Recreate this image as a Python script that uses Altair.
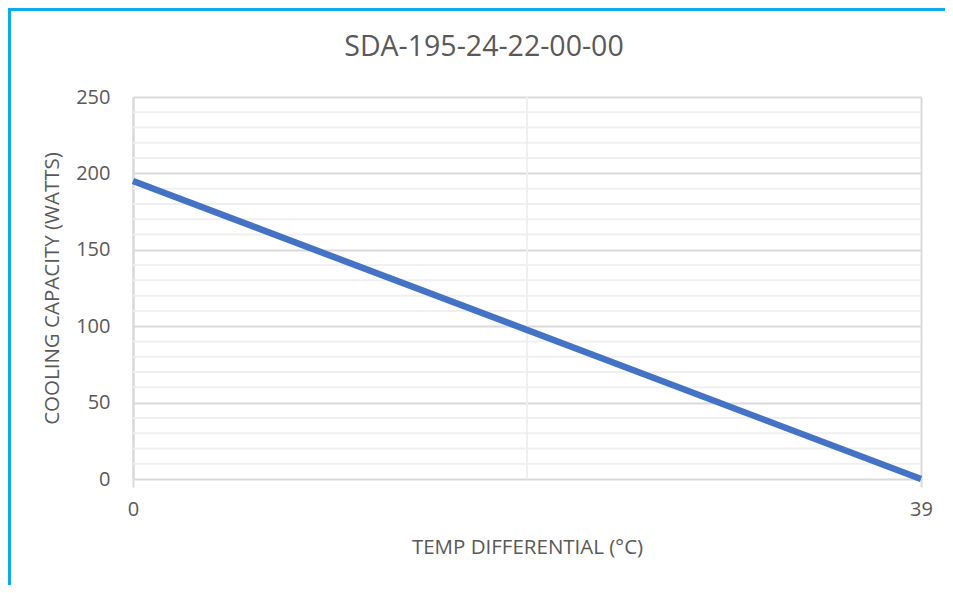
import altair as alt
import pandas as pd

# ---- data ----
chart_title = "SDA-195-24-22-00-00"
temp_diff = [0, 39]
cooling_watts = [195, 0]
y_major_ticks = [0, 50, 100, 150, 200, 250]
y_minor_ticks = [10, 20, 30, 40, 60, 70, 80, 90, 110, 120, 130, 140,
                 160, 170, 180, 190, 210, 220, 230, 240]
x_ticks = [0, 39]
x_minor_ticks = [19.5]

FONT = "Open Sans"
GRAY = "#595959"
W, H = 788, 382
PL, PT, PR, PB = 125, 89, 24, 106

line_df = pd.DataFrame({"t": temp_diff, "w": cooling_watts})
yminor_df = pd.DataFrame({"w": y_minor_ticks})
xminor_df = pd.DataFrame({"t": x_minor_ticks})

xs = alt.Scale(domain=[0, 39], nice=False, zero=False)
ys = alt.Scale(domain=[0, 250], nice=False)

x_axis = alt.Axis(values=x_ticks, grid=True, gridColor="#d9d9d9", gridWidth=2,
                  domain=False, ticks=True, tickColor="#d9d9d9", tickSize=8,
                  tickWidth=2, labelFont=FONT, labelFontSize=20,
                  labelColor=GRAY, labelPadding=12, labelFlush=False,
                  title="TEMP DIFFERENTIAL (°C)", titleFont=FONT,
                  titleFontSize=20.5, titleFontWeight="normal",
                  titleColor=GRAY, titlePadding=18)
y_axis = alt.Axis(values=y_major_ticks, grid=True, gridColor="#d9d9d9",
                  gridWidth=2, domain=True, domainColor="#d9d9d9",
                  domainWidth=2, ticks=False, tickSize=0, labelFont=FONT,
                  labelFontSize=20, labelColor=GRAY, labelPadding=23,
                  title="COOLING CAPACITY (WATTS)", titleFont=FONT,
                  titleFontSize=20.5, titleFontWeight="normal",
                  titleColor=GRAY, titlePadding=13)

X = alt.X("t:Q", scale=xs, axis=x_axis)
Y = alt.Y("w:Q", scale=ys, axis=y_axis)

minor_h = alt.Chart(yminor_df).mark_rule(color="#efefef", strokeWidth=2).encode(y=Y)
minor_v = alt.Chart(xminor_df).mark_rule(color="#efefef", strokeWidth=2).encode(x=X)
line = alt.Chart(line_df).mark_line(color="#4472C4", strokeWidth=6.5,
                                    strokeCap="butt").encode(x=X, y=Y)

one_row = alt.Data(values=[{"k": 1}])
border_left = alt.Chart(one_row).mark_rule(color="#0FAAEA", strokeWidth=3).encode(
    x=alt.value(-PL + 1.5), y=alt.value(-PT), y2=alt.value(H + PB))
border_top = alt.Chart(one_row).mark_rule(color="#0FAAEA", strokeWidth=3).encode(
    x=alt.value(-PL), x2=alt.value(W + PR), y=alt.value(-PT + 1.5))
title = alt.Chart(one_row).mark_text(
    text=chart_title, font=FONT, fontSize=28.5, color=GRAY, align="center",
    baseline="alphabetic").encode(x=alt.value(351), y=alt.value(-41))

chart = alt.layer(minor_h, minor_v, line, border_left, border_top, title).properties(
    width=W, height=H,
    autosize=alt.AutoSizeParams(type="none"),
    padding={"left": PL, "top": PT, "right": PR, "bottom": PB},
    background="white",
).configure_view(stroke=None)

chart.save("out.html", embed_options={"renderer": "svg", "actions": False})
